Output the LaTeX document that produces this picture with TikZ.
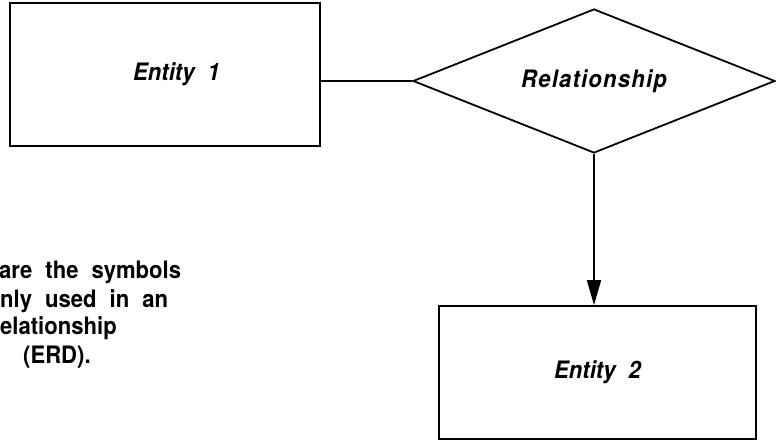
\documentclass[tikz,border=0pt]{standalone}
\usepackage{fontspec}
\setmainfont{TeX Gyre Heros}
\newfontfamily\hfont[FakeStretch=0.92]{TeX Gyre Heros}
\newfontfamily\hrelfont[FakeStretch=0.92,LetterSpace=5]{TeX Gyre Heros}
\usetikzlibrary{shapes.geometric,arrows.meta}
\begin{document}
\begin{tikzpicture}[x=1pt,y=-1pt,
  lbl/.style={font=\hfont\fontsize{24}{28}\selectfont\bfseries\itshape,
    execute at begin node={\spaceskip=13pt\relax}},
  body/.style={font=\hfont\fontsize{24}{28}\selectfont\bfseries,
    execute at begin node={\spaceskip=13pt\relax}, inner sep=0pt, anchor=base west},
  edge/.style={line width=1.8pt},
  entitybox/.style={draw, edge, rectangle, inner sep=0pt, lbl},
  relshape/.style={draw, edge, diamond, aspect=2.5, inner sep=0pt,
    font=\hrelfont\fontsize{24}{28}\selectfont\bfseries\itshape}
]
\useasboundingbox (0,0) rectangle (776,441);
\node[entitybox, minimum width=310pt, minimum height=143pt] (e1) at (165,74.5) {\hspace*{23pt}Entity 1};
\node[relshape, minimum width=362pt, minimum height=144pt] (rel) at (594,81) {Relationship};
\node[entitybox, minimum width=317pt, minimum height=133pt] (e2) at (597.5,372.5) {Entity 2};
\draw[edge] (e1.east |- rel.west) -- (rel.west);
\draw[edge, -{Triangle[length=25pt,width=14pt]}] (rel.south) -- (rel.south |- e2.north);
\node[body] (t1) at (-1,278.5) {are the symbols};
\node[body] (t2) at (0,307) {nly used in an};
\node[body] (t3) at (0,334.5) {elationship};
\node[body] (t4) at (23,363) {(ERD).};
\end{tikzpicture}
\end{document}
